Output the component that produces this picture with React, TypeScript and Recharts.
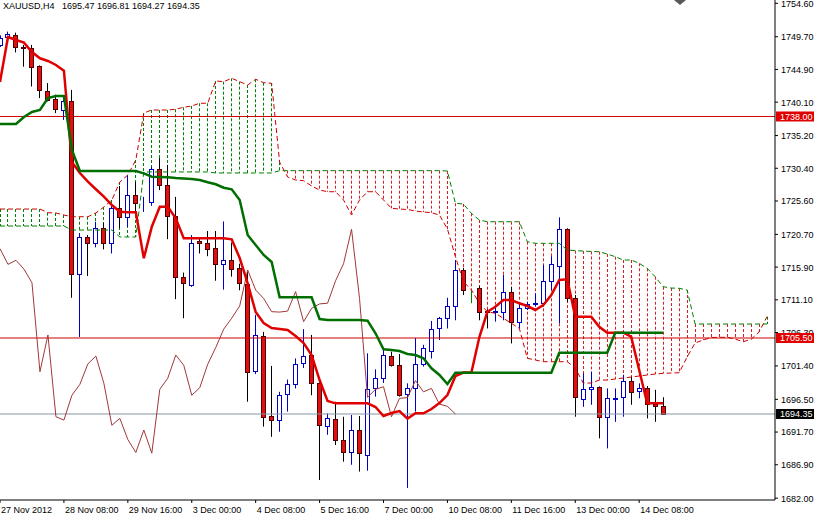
import React from 'react';
import { ComposedChart, Bar, Line, XAxis, YAxis, ReferenceLine } from 'recharts';

const W = 814;
const H = 518;
const AXIS_W = 39;
const AXIS_H = 18;
const PLOT_R = W - AXIS_W;
const FONT = "'Liberation Sans', Arial, sans-serif";

const BULL = '#0000c8';
const BEAR = '#e01010';
const BEAR_EDGE = '#500000';
const DOJI = '#008000';
const TENKAN_C = '#e00000';
const KIJUN_C = '#006e00';
const CHIKOU_C = '#a0383a';
const SPAN_A_C = '#cc0000';
const SPAN_B_C = '#008000';
const HATCH_UP_C = '#008000';
const HATCH_DOWN_C = '#dd1c1c';

const title = 'XAUUSD,H4   1695.47 1696.81 1694.27 1694.35';

const dateTickIndex = [0, 8, 16, 24, 32, 40, 48, 56, 64, 72, 80];
const dateTickLabels = [
  '27 Nov 2012', '28 Nov 08:00', '29 Nov 16:00', '3 Dec 00:00', '4 Dec 08:00', '5 Dec 16:00',
  '7 Dec 00:00', '10 Dec 08:00', '11 Dec 16:00', '13 Dec 00:00', '14 Dec 08:00',
];

const priceTicks = [
  1754.6, 1749.7, 1744.9, 1740.1, 1735.2, 1730.4, 1725.6, 1720.7,
  1715.9, 1711.1, 1706.3, 1701.4, 1696.5, 1691.7, 1686.9, 1682.0,
];
const levelLines = [1738.0, 1705.5];
const lastPrice = 1694.35;
const priceTags = [
  { value: 1738.0, bg: '#e00000' },
  { value: 1705.5, bg: '#e00000' },
  { value: 1694.35, bg: '#000000' },
];

const opens = [
  1748.5, 1749.7, 1749.96, 1748.15, 1748.0, 1745.4, 1741.8, 1740.6, 1738.95, 1740.27,
  1714.85, 1720.27, 1719.5, 1721.6, 1719.5, 1724.5, 1723.2, 1726.5, 1725.4, 1725.5,
  1730.25, 1727.95, 1723.4, 1714.4, 1713.3, 1719.8, 1719.4, 1718.7, 1716.3, 1716.9,
  1715.7, 1713.4, 1700.7, 1705.8, 1694.05, 1693.45, 1697.24, 1698.7, 1701.8, 1703.0,
  1698.9, 1692.6, 1693.55, 1690.6, 1688.7, 1692.0, 1688.33, 1698.1, 1699.6, 1702.9,
  1701.5, 1697.24, 1698.1, 1701.65, 1703.6, 1706.9, 1708.4, 1710.24, 1715.48, 1711.3,
  1712.8, 1709.45, 1709.3, 1709.36, 1712.3, 1707.9, 1709.85, 1710.5, 1710.6, 1713.9,
  1716.06, 1721.45, 1711.3, 1696.6, 1697.97, 1698.35, 1693.95, 1696.6, 1696.9, 1699.25,
  1697.7, 1698.1, 1695.8, 1695.47,
];
const highs = [
  1749.9, 1750.45, 1750.3, 1748.5, 1748.5, 1745.5, 1742.9, 1741.2, 1740.5, 1741.9,
  1720.9, 1720.6, 1722.56, 1722.4, 1725.0, 1727.8, 1729.3, 1728.4, 1726.2, 1730.6,
  1731.9, 1730.9, 1726.2, 1715.1, 1720.6, 1720.1, 1721.2, 1721.2, 1722.6, 1719.5,
  1716.4, 1715.2, 1708.9, 1706.4, 1701.4, 1697.6, 1699.4, 1702.5, 1706.8, 1705.95,
  1699.3, 1694.45, 1696.15, 1693.95, 1694.2, 1694.05, 1703.25, 1700.9, 1703.74, 1703.5,
  1703.15, 1698.85, 1705.5, 1704.5, 1708.0, 1708.6, 1711.4, 1716.94, 1715.8, 1712.5,
  1713.1, 1709.7, 1710.1, 1714.74, 1713.0, 1710.6, 1710.8, 1712.06, 1716.2, 1717.5,
  1723.2, 1721.6, 1711.8, 1700.3, 1700.55, 1698.4, 1698.1, 1698.1, 1700.1, 1699.8,
  1698.85, 1698.45, 1697.9, 1696.81,
];
const lows = [
  1748.2, 1749.5, 1747.4, 1745.3, 1742.4, 1740.7, 1740.2, 1738.5, 1737.5, 1711.4,
  1705.65, 1714.6, 1718.8, 1718.5, 1717.9, 1721.6, 1721.8, 1724.0, 1724.0, 1724.9,
  1727.2, 1720.0, 1711.2, 1708.4, 1713.0, 1717.9, 1717.5, 1713.9, 1712.6, 1714.5,
  1712.5, 1696.15, 1700.2, 1692.5, 1691.0, 1691.75, 1694.7, 1698.1, 1701.1, 1697.1,
  1684.66, 1691.3, 1689.8, 1687.35, 1686.9, 1685.9, 1686.03, 1696.9, 1698.9, 1701.3,
  1696.9, 1683.5, 1694.7, 1701.3, 1702.5, 1705.2, 1706.9, 1708.1, 1711.8, 1710.6,
  1708.1, 1706.9, 1707.9, 1708.1, 1704.7, 1706.9, 1709.6, 1710.1, 1710.1, 1712.5,
  1707.65, 1710.8, 1693.95, 1695.4, 1695.7, 1690.78, 1689.3, 1693.2, 1693.95, 1695.7,
  1696.65, 1693.7, 1693.2, 1694.27,
];
const closes = [
  1749.5, 1750.1, 1748.15, 1748.1, 1745.3, 1741.9, 1740.4, 1739.06, 1740.3, 1714.85,
  1720.27, 1719.4, 1721.6, 1719.5, 1724.53, 1723.2, 1726.5, 1725.35, 1725.5, 1730.25,
  1727.95, 1723.4, 1714.4, 1713.5, 1719.5, 1719.4, 1718.6, 1716.3, 1716.9, 1715.6,
  1713.6, 1700.55, 1705.94, 1693.95, 1693.45, 1697.1, 1698.7, 1701.7, 1702.85, 1698.85,
  1692.7, 1693.7, 1690.6, 1688.7, 1692.0, 1688.6, 1697.97, 1699.6, 1703.0, 1701.5,
  1697.1, 1698.2, 1701.65, 1704.1, 1706.8, 1708.4, 1710.2, 1715.48, 1712.54, 1711.3,
  1709.36, 1709.3, 1709.45, 1712.3, 1707.9, 1709.85, 1710.5, 1710.6, 1713.9, 1716.4,
  1721.45, 1711.3, 1696.8, 1697.97, 1698.35, 1693.95, 1696.65, 1696.75, 1699.25, 1697.6,
  1698.1, 1695.8, 1695.47, 1694.35,
];

const tenkan = [
  1743.06, 1749.66, 1749.22, 1748.83, 1747.46, 1746.54, 1746.14, 1745.56, 1744.72, 1731.32,
  1729.71, 1728.43, 1727.32, 1726.23, 1725.01, 1724.03, 1723.94, 1723.94, 1717.19, 1721.83,
  1724.76, 1724.76, 1723.06, 1720.12, 1720.12, 1720.12, 1720.12, 1720.12, 1720.12, 1719.98,
  1717.23, 1713.52, 1709.31, 1707.70, 1706.96, 1706.82, 1706.67, 1705.79, 1704.76, 1703.00,
  1699.33, 1696.25, 1695.91, 1695.91, 1695.91, 1695.91, 1695.91, 1695.37, 1694.05, 1694.49,
  1694.78, 1693.68, 1694.45, 1694.45, 1695.08, 1695.96, 1697.13, 1699.92, 1700.43, 1700.43,
  1705.64, 1709.35, 1710.09, 1711.07, 1711.07, 1710.59, 1710.19, 1709.61, 1710.34, 1711.80,
  1714.01, 1714.11, 1708.62, 1708.62, 1708.62, 1707.15, 1706.27, 1706.27, 1706.27, 1705.69,
  1700.80, 1695.91, 1695.91, 1695.91,
];
const kijun = [
  1736.90, 1736.90, 1736.90, 1737.93, 1738.66, 1738.95, 1740.71, 1741.01, 1741.01, 1733.08,
  1730.00, 1730.00, 1730.00, 1730.00, 1730.00, 1730.00, 1730.00, 1730.00, 1729.66, 1729.16,
  1729.12, 1729.08, 1728.97, 1728.90, 1728.83, 1728.68, 1728.34, 1728.05, 1727.55, 1727.32,
  1725.75, 1720.61, 1719.14, 1717.68, 1716.65, 1711.47, 1711.47, 1711.47, 1711.47, 1711.47,
  1708.28, 1708.14, 1708.14, 1708.14, 1708.14, 1708.14, 1708.04, 1706.19, 1703.84, 1703.73,
  1703.59, 1703.15, 1703.00, 1702.52, 1701.05, 1700.07, 1698.74, 1700.40, 1700.40, 1700.40,
  1700.40, 1700.40, 1700.40, 1700.40, 1700.40, 1700.40, 1700.40, 1700.40, 1700.40, 1700.40,
  1703.34, 1703.34, 1703.34, 1703.34, 1703.34, 1703.34, 1703.34, 1706.27, 1706.27, 1706.27,
  1706.27, 1706.27, 1706.27, 1706.27,
];
const chikou = [
  1718.6, 1716.3, 1716.9, 1715.6, 1713.6, 1700.55, 1705.94, 1693.95, 1693.45, 1697.1,
  1698.7, 1701.7, 1702.85, 1698.85, 1692.7, 1693.7, 1690.6, 1688.7, 1692.0, 1688.6,
  1697.97, 1699.6, 1703.0, 1701.5, 1697.1, 1698.2, 1701.65, 1704.1, 1706.8, 1708.4,
  1710.2, 1715.48, 1712.54, 1711.3, 1709.36, 1709.3, 1709.45, 1712.3, 1707.9, 1709.85,
  1710.5, 1710.6, 1713.9, 1716.4, 1721.45, 1711.3, 1696.8, 1697.97, 1698.35, 1693.95,
  1696.65, 1696.75, 1699.25, 1697.6, 1698.1, 1695.8, 1695.47, 1694.35,
];
const spanA = [
  1724.42, 1724.42, 1724.42, 1724.42, 1724.42, 1724.42, 1723.88, 1723.84, 1723.54, 1723.29,
  1723.29, 1723.29, 1723.84, 1724.72, 1725.75, 1728.39, 1729.42, 1731.62, 1738.51, 1738.95,
  1738.95, 1738.95, 1739.06, 1739.35, 1739.54, 1739.94, 1739.94, 1743.21, 1743.11, 1743.60,
  1743.11, 1742.62, 1743.46, 1742.96, 1742.87, 1731.30, 1729.12, 1728.68, 1728.58, 1727.80,
  1727.21, 1726.96, 1726.96, 1725.75, 1723.54, 1725.75, 1726.96, 1726.96, 1725.75, 1724.53,
  1724.42, 1724.35, 1724.13, 1723.99, 1723.88, 1723.54, 1721.49, 1717.43, 1713.76, 1712.55,
  1710.59, 1709.36, 1709.12, 1708.39, 1707.65, 1706.92, 1702.52, 1702.27, 1702.02, 1702.02,
  1702.02, 1702.02, 1701.09, 1698.89, 1698.89, 1699.33, 1699.33, 1699.48, 1699.63, 1699.77,
  1699.92, 1700.07, 1700.21, 1700.32, 1700.36, 1700.40, 1702.71, 1704.76, 1705.20, 1705.57,
  1705.60, 1705.60, 1705.35, 1704.95, 1705.30, 1706.38, 1708.62,
];
const spanB = [
  1721.93, 1721.93, 1721.93, 1721.93, 1721.93, 1721.93, 1721.93, 1721.93, 1721.93, 1721.34,
  1721.34, 1721.34, 1721.34, 1721.34, 1721.34, 1720.32, 1720.32, 1720.32, 1729.86, 1729.86,
  1729.86, 1729.86, 1729.86, 1729.86, 1729.86, 1729.86, 1729.86, 1729.71, 1729.71, 1729.71,
  1729.71, 1729.71, 1729.71, 1729.71, 1729.71, 1730.05, 1730.05, 1730.05, 1730.05, 1730.05,
  1730.05, 1730.05, 1730.05, 1730.05, 1730.05, 1730.05, 1730.05, 1730.05, 1730.05, 1730.05,
  1730.05, 1730.05, 1730.05, 1730.05, 1730.05, 1730.05, 1730.00, 1725.26, 1725.16, 1723.79,
  1722.81, 1722.56, 1722.56, 1722.56, 1722.56, 1722.56, 1719.63, 1719.39, 1719.39, 1719.39,
  1719.39, 1718.41, 1718.31, 1718.26, 1718.19, 1718.16, 1717.82, 1717.43, 1716.94, 1716.94,
  1716.46, 1715.72, 1714.49, 1713.02, 1712.83, 1712.79, 1712.54, 1707.55, 1707.55, 1707.55,
  1707.55, 1707.55, 1707.55, 1707.55, 1707.55, 1707.55, 1707.55,
];

const rows = spanA.map((a, k) => {
  const b = spanB[k];
  const has = k < opens.length;
  return {
    k,
    candle: has ? [lows[k], highs[k]] : null,
    o: has ? opens[k] : null,
    h: has ? highs[k] : null,
    l: has ? lows[k] : null,
    c: has ? closes[k] : null,
    tenkan: k < tenkan.length ? tenkan[k] : null,
    kijun: k < kijun.length ? kijun[k] : null,
    chikou: k < chikou.length ? chikou[k] : null,
    spanA: a,
    spanB: b,
    cloud: [Math.min(a, b), Math.max(a, b)],
  };
});

function CandleShape(props: any) {
  const { x, y, width, height, payload } = props;
  if (!payload || payload.o == null || y == null || isNaN(y)) return null;
  const { o, h, l, c } = payload;
  const cx = Math.round(x + width / 2) + 0.5;
  const pix = (v: number) => (h === l ? y : y + ((h - v) / (h - l)) * height);
  const yTop = Math.round(pix(Math.max(o, c)));
  const yBot = Math.round(pix(Math.min(o, c)));
  if (o === c) {
    return <line x1={cx} x2={cx} y1={y} y2={y + height} stroke={DOJI} strokeWidth={1} />;
  }
  const bull = c > o;
  return (
    <g>
      <line x1={cx} x2={cx} y1={y} y2={y + height} stroke={bull ? BULL : '#000'} strokeWidth={1} />
      <rect
        x={cx - 2}
        y={yTop + 0.5}
        width={4}
        height={Math.max(0, yBot - yTop)}
        fill={bull ? '#ffffff' : BEAR}
        stroke={bull ? BULL : BEAR_EDGE}
        strokeWidth={1}
      />
    </g>
  );
}

function HatchShape(props: any) {
  const { x, y, width, height, payload } = props;
  if (!payload || y == null || isNaN(y)) return null;
  const cx = Math.round(x + width / 2) + 0.5;
  const up = Number(payload.spanA) >= Number(payload.spanB);
  return (
    <path
      d={`M${cx},${y}L${cx},${y + height}`}
      fill="none"
      stroke={up ? HATCH_UP_C : HATCH_DOWN_C}
      strokeWidth={1}
      strokeDasharray="3 2"
    />
  );
}

function DateTick(props: any) {
  const { x, payload } = props;
  const idx = dateTickIndex.indexOf(payload.value);
  if (idx < 0) return null;
  return (
    <text x={x + 1} y={513} fontSize={9} fontFamily={FONT} fill="#000" textAnchor="start">
      {dateTickLabels[idx]}
    </text>
  );
}

function PriceTick(props: any) {
  const { y, payload } = props;
  const v = payload.value;
  const tag = priceTags.find((t) => Math.abs(t.value - v) < 1e-6);
  if (tag) {
    return (
      <g>
        <rect x={PLOT_R + 1} y={y - 5} width={AXIS_W - 1} height={10} fill={tag.bg} />
        <text x={PLOT_R + 5} y={y + 3.4} fontSize={9} fontFamily={FONT} fill="#fff">
          {v.toFixed(2)}
        </text>
      </g>
    );
  }
  return (
    <g>
      <line x1={PLOT_R} x2={PLOT_R + 3} y1={y} y2={y} stroke="#000" />
      <text x={PLOT_R + 6} y={y + 3.4} fontSize={9} fontFamily={FONT} fill="#000">
        {v.toFixed(2)}
      </text>
    </g>
  );
}

const allPriceTicks = [...priceTicks, ...priceTags.map((t) => t.value)];

export default function App() {
  return (
    <div style={{ position: 'absolute', left: 0, top: 0, width: W, height: H, background: '#ffffff', overflow: 'hidden' }}>
      <ComposedChart
        width={W}
        height={H}
        data={rows}
        margin={{ top: 0, right: 0, bottom: 0, left: 0 }}
        style={{ fontFamily: FONT }}
      >
        <XAxis
          dataKey="k"
          type="number"
          domain={[0, 97]}
          allowDataOverflow
          ticks={dateTickIndex}
          interval={0}
          height={AXIS_H}
          tick={<DateTick />}
          tickSize={3}
          tickLine={{ stroke: '#000' }}
          axisLine={{ stroke: '#000' }}
        />
        <XAxis xAxisId="h" dataKey="k" type="number" domain={[0, 97]} allowDataOverflow hide />
        <YAxis
          orientation="right"
          type="number"
          domain={[1681.73, 1755.09]}
          allowDataOverflow
          ticks={allPriceTicks}
          interval={0}
          width={AXIS_W}
          tick={<PriceTick />}
          tickLine={false}
          axisLine={{ stroke: '#000' }}
        />
        <Bar xAxisId="h" dataKey="cloud" barSize={5} shape={<HatchShape />} isAnimationActive={false} />
        <Line dataKey="spanA" stroke={SPAN_A_C} strokeWidth={1} strokeDasharray="5 3" dot={false} activeDot={false} isAnimationActive={false} />
        <Line dataKey="spanB" stroke={SPAN_B_C} strokeWidth={1} strokeDasharray="5 3" dot={false} activeDot={false} isAnimationActive={false} />
        {levelLines.map((v) => (
          <ReferenceLine key={v} y={v} stroke="#d00000" strokeWidth={1} />
        ))}
        <ReferenceLine y={lastPrice} stroke="#8595a5" strokeWidth={1} />
        <Bar dataKey="candle" barSize={5} shape={<CandleShape />} isAnimationActive={false} />
        <Line dataKey="chikou" stroke={CHIKOU_C} strokeWidth={1} dot={false} activeDot={false} isAnimationActive={false} />
        <Line dataKey="tenkan" stroke={TENKAN_C} strokeWidth={2.5} dot={false} activeDot={false} isAnimationActive={false} />
        <Line dataKey="kijun" stroke={KIJUN_C} strokeWidth={2.5} dot={false} activeDot={false} isAnimationActive={false} />
      </ComposedChart>
      <div
        style={{
          position: 'absolute',
          left: 3,
          top: 1,
          fontFamily: FONT,
          fontSize: 9,
          lineHeight: '11px',
          whiteSpace: 'pre',
          color: '#000',
          pointerEvents: 'none',
        }}
      >
        {title}
      </div>
      <svg style={{ position: 'absolute', left: 0, top: 0, pointerEvents: 'none' }} width={W} height={8}>
        <polygon points="674,0 686,0 680,5" fill="#5a5a5a" />
      </svg>
    </div>
  );
}
